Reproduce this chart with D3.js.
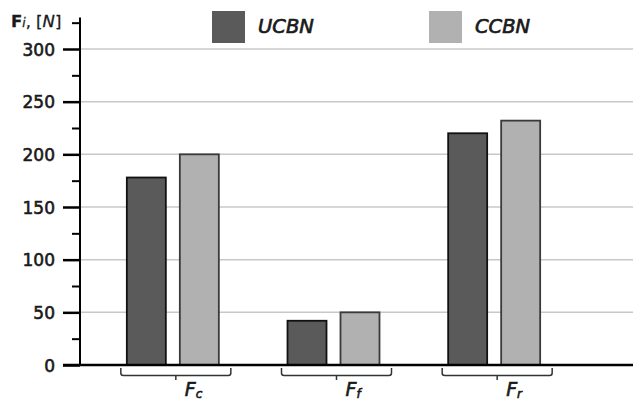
<!DOCTYPE html>
<html>
<head>
<meta charset="utf-8">
<script src="https://cdn.jsdelivr.net/npm/d3@7"></script>
<style>
  body { margin: 0; background: #fff; }
  svg { display: block; font-family: "DejaVu Sans", sans-serif; }
</style>
</head>
<body>
<svg id="chart" width="633" height="403"></svg>
<script>
// data
const categories = ["c", "f", "r"];          // subscripts of F
const series = ["UCBN", "CCBN"];
const ucbn = [178, 42, 220];
const ccbn = [200, 50, 232];
const yTicks = [0, 50, 100, 150, 200, 250, 300];
const yMinor = [25, 75, 125, 175, 225, 275, 325];

const colors = { UCBN: "#5a5a5a", CCBN: "#b1b1b1" };
const strokes = { UCBN: "#111", CCBN: "#3a3a3a" };
const ink = "#1a1a1a";

const svg = d3.select("#chart");
const W = 633;
const axisX = 80;

const y = d3.scaleLinear().domain([0, 330]).range([365, 17.4]);
const x0 = d3.scaleBand().domain(categories).range([92.5, 574.5]);
const x1 = d3.scaleBand().domain(series).range([0, 92]).paddingInner(14 / 53);

const rows = categories.map((c, i) => ({ cat: c, UCBN: ucbn[i], CCBN: ccbn[i] }));

// medium weight text: regular face with a thin outline
const medium = (sel, w) => sel.attr("stroke", ink).attr("stroke-width", w).attr("fill", ink);

// gridlines
svg.append("g").attr("class", "grid")
  .selectAll("line")
  .data(yTicks.filter(d => d > 0))
  .enter().append("line")
  .attr("x1", axisX).attr("x2", W)
  .attr("y1", d => y(d)).attr("y2", d => y(d))
  .attr("stroke", "#c8c8c8").attr("stroke-width", 1.5);

// bars
const groups = svg.append("g").selectAll(".grp")
  .data(rows)
  .enter().append("g")
  .attr("class", "grp")
  .attr("transform", d => `translate(${x0(d.cat) + x0.bandwidth() / 2 - 46},0)`);

groups.selectAll("rect")
  .data(d => series.map(s => ({ key: s, value: d[s] })))
  .enter().append("rect")
  .attr("x", d => x1(d.key))
  .attr("width", x1.bandwidth())
  .attr("y", d => y(d.value))
  .attr("height", d => y(0) - y(d.value))
  .attr("fill", d => colors[d.key])
  .attr("stroke", d => strokes[d.key])
  .attr("stroke-width", 1.8);

// y axis: major ticks with labels
const yAxis = d3.axisLeft(y).tickValues(yTicks).tickSize(17).tickPadding(8);
const gy = svg.append("g")
  .attr("transform", `translate(${axisX},0)`)
  .call(yAxis);
gy.select(".domain").remove();
gy.selectAll(".tick line").attr("stroke", "#000").attr("stroke-width", 2.5);
gy.selectAll(".tick text")
  .attr("font-family", "DejaVu Sans, sans-serif")
  .attr("font-size", 17)
  .attr("dy", "0.36em")
  .call(medium, 0.6);

// minor ticks
const gm = svg.append("g")
  .attr("transform", `translate(${axisX},0)`)
  .call(d3.axisLeft(y).tickValues(yMinor).tickSize(8).tickFormat(""));
gm.select(".domain").remove();
gm.selectAll(".tick line").attr("stroke", "#000").attr("stroke-width", 2);

// axis line and baseline
svg.append("line")
  .attr("x1", axisX).attr("x2", axisX)
  .attr("y1", y(330)).attr("y2", y(0))
  .attr("stroke", "#000").attr("stroke-width", 2);
svg.append("line")
  .attr("x1", 63).attr("x2", W)
  .attr("y1", y(0)).attr("y2", y(0))
  .attr("stroke", "#000").attr("stroke-width", 2.5);

// brackets under each group
const brk = svg.append("g").selectAll(".brk")
  .data(categories)
  .enter().append("g")
  .attr("class", "brk")
  .attr("transform", c => `translate(${x0(c) + x0.bandwidth() / 2 + 3},0)`);

brk.append("path")
  .attr("d", "M-55,368 V373 Q-55,375.5 -52.5,375.5 H52.5 Q55,375.5 55,373 V368 M0,375.5 V380")
  .attr("fill", "none")
  .attr("stroke", "#333")
  .attr("stroke-width", 1.5);

const lbl = brk.append("text")
  .attr("x", 9)
  .attr("y", 396)
  .attr("font-family", "DejaVu Sans, sans-serif")
  .attr("font-style", "italic")
  .attr("font-size", 19)
  .call(medium, 0.6);
lbl.append("tspan").text("F");
lbl.append("tspan").attr("font-size", 12).attr("dy", 2).text(c => c);

// y axis title
const yt = svg.append("text")
  .attr("x", 11).attr("y", 27)
  .attr("font-family", "DejaVu Sans, sans-serif")
  .attr("font-size", 16.5)
  .call(medium, 0.3);
yt.append("tspan").attr("font-weight", "bold").text("F");
yt.append("tspan").attr("font-style", "italic").attr("font-size", 12).text("i");
yt.append("tspan").text(", [");
yt.append("tspan").attr("font-style", "italic").text("N");
yt.append("tspan").text("]");

// legend
const legend = svg.append("g").selectAll(".leg")
  .data(series)
  .enter().append("g")
  .attr("class", "leg")
  .attr("transform", (d, i) => `translate(${[212, 429][i]},11)`);
legend.append("rect")
  .attr("width", 33).attr("height", 32)
  .attr("fill", d => colors[d]);
legend.append("text")
  .attr("x", 46).attr("y", 22)
  .attr("font-family", "DejaVu Sans, sans-serif")
  .attr("font-style", "italic")
  .attr("font-size", 19.5)
  .text(d => d)
  .call(medium, 0.7);
</script>
</body>
</html>
